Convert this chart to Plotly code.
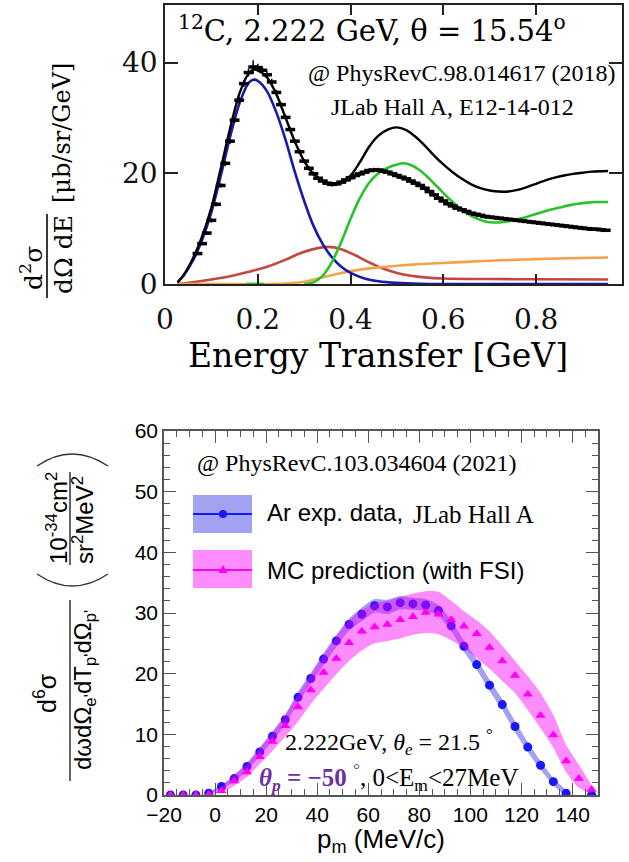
import plotly.graph_objects as go

W, H = 629, 862

# ---------------- Top panel: 12C inclusive cross section ----------------
et_data = [0.07, 0.08, 0.09, 0.10, 0.11, 0.12, 0.13, 0.14, 0.15, 0.16, 0.17, 0.18, 0.19, 0.20,
           0.21, 0.22, 0.23, 0.24, 0.25, 0.26, 0.27, 0.28, 0.29, 0.30, 0.31, 0.32, 0.33, 0.34,
           0.35, 0.36, 0.37, 0.38, 0.39, 0.40, 0.41, 0.42, 0.43, 0.44, 0.45, 0.46, 0.47, 0.48,
           0.49, 0.50, 0.51, 0.52, 0.53, 0.54, 0.55, 0.56, 0.57, 0.58, 0.59, 0.60, 0.61, 0.62,
           0.63, 0.64, 0.65, 0.66, 0.67, 0.68, 0.69, 0.70, 0.71, 0.72, 0.73, 0.74, 0.75, 0.76,
           0.77, 0.78, 0.79, 0.80, 0.81, 0.82, 0.83, 0.84, 0.85, 0.86, 0.87, 0.88, 0.89, 0.90,
           0.91, 0.92, 0.93, 0.94, 0.95]
xs_data = [5.5, 7.3, 9.2, 11.5, 14.4, 17.8, 21.8, 25.8, 29.6, 33.2, 36.2, 38.2, 39.2, 39.1,
           38.6, 37.8, 36.5, 34.6, 32.4, 30.1, 27.9, 25.8, 23.9, 22.2, 20.9, 19.9, 19.1, 18.6,
           18.2, 18.0, 18.1, 18.4, 18.8, 19.2, 19.6, 19.9, 20.2, 20.5, 20.6, 20.6, 20.4, 20.2,
           19.9, 19.6, 19.3, 19.0, 18.6, 18.2, 17.8, 17.3, 16.7, 16.1, 15.5, 15.0, 14.5, 14.1,
           13.7, 13.4, 13.1, 12.8, 12.6, 12.4, 12.2, 12.1, 12.0, 11.9, 11.8, 11.7, 11.6, 11.5,
           11.4, 11.3, 11.2, 11.1, 11.0, 10.9, 10.8, 10.7, 10.6, 10.5, 10.4, 10.3, 10.2, 10.1,
           10.0, 9.9, 9.9, 9.8, 9.7]
xs_err = [0.3, 0.3, 0.3, 0.4, 0.4, 0.4, 0.5, 0.5, 0.5, 0.6, 0.6, 0.7, 1.2, 0.7,
          0.6, 0.6, 0.6, 0.5, 0.5, 0.5, 0.5, 0.4, 0.4, 0.4, 0.4, 0.4, 0.4, 0.4,
          0.4, 0.4, 0.4, 0.4, 0.4, 0.4, 0.4, 0.4, 0.4, 0.4, 0.4, 0.4, 0.4, 0.4,
          0.4, 0.4, 0.4, 0.4, 0.4, 0.4, 0.4, 0.4, 0.4, 0.4, 0.4, 0.4, 0.4, 0.4,
          0.3, 0.3, 0.3, 0.3, 0.3, 0.3, 0.3, 0.3, 0.3, 0.3, 0.3, 0.3, 0.3, 0.3,
          0.3, 0.3, 0.3, 0.3, 0.3, 0.3, 0.3, 0.3, 0.3, 0.3, 0.3, 0.3, 0.3, 0.3,
          0.3, 0.3, 0.3, 0.3, 0.3]

et_model = [0.027, 0.04, 0.06, 0.08, 0.10, 0.12, 0.14, 0.16, 0.18, 0.19, 0.20, 0.22, 0.24, 0.26,
            0.28, 0.30, 0.32, 0.34, 0.36, 0.38, 0.40, 0.42, 0.44, 0.46, 0.48, 0.50, 0.52, 0.54,
            0.56, 0.58, 0.60, 0.62, 0.64, 0.66, 0.68, 0.70, 0.72, 0.74, 0.76, 0.78, 0.80, 0.82,
            0.84, 0.86, 0.88, 0.90, 0.92, 0.955]
xs_model = [0.3, 1.6, 4.6, 8.6, 13.8, 20.8, 28.0, 34.3, 38.0, 38.7, 38.6, 37.3, 34.3, 30.0,
            25.7, 22.2, 19.9, 18.6, 18.1, 18.4, 19.6, 22.0, 24.8, 26.8, 27.9, 28.3, 27.8, 26.6,
            25.0, 23.2, 21.6, 20.2, 19.0, 18.0, 17.3, 16.9, 16.7, 16.7, 17.0, 17.5, 18.1, 18.7,
            19.2, 19.6, 19.9, 20.1, 20.3, 20.4]

et_qe = [0.027, 0.04, 0.06, 0.08, 0.10, 0.12, 0.14, 0.16, 0.18, 0.19, 0.20, 0.22, 0.24, 0.26,
         0.28, 0.30, 0.32, 0.34, 0.36, 0.38, 0.40, 0.43, 0.46, 0.50, 0.55, 0.60, 0.70, 0.80, 0.955]
xs_qe = [0.3, 1.5, 4.2, 8.0, 13.0, 19.5, 26.5, 32.5, 36.3, 36.9, 36.7, 34.8, 31.0, 26.0,
         20.2, 15.0, 10.5, 7.2, 4.8, 3.1, 2.0, 1.0, 0.5, 0.2, 0.05, 0.0, 0.0, 0.0, 0.0]

et_mec = [0.027, 0.06, 0.10, 0.14, 0.18, 0.22, 0.26, 0.29, 0.32, 0.35, 0.38, 0.41, 0.44, 0.47,
          0.50, 0.53, 0.56, 0.60, 0.70, 0.80, 0.955]
xs_mec = [0.0, 0.3, 0.8, 1.4, 2.2, 3.1, 4.4, 5.5, 6.3, 6.7, 6.3, 5.2, 3.9, 2.8,
          2.0, 1.5, 1.2, 1.0, 0.9, 0.85, 0.8]

et_dis = [0.027, 0.20, 0.26, 0.30, 0.34, 0.38, 0.42, 0.46, 0.50, 0.55, 0.60, 0.65, 0.70, 0.75,
          0.80, 0.85, 0.90, 0.955]
xs_dis = [0.0, 0.0, 0.1, 0.4, 1.2, 2.0, 2.6, 3.0, 3.3, 3.6, 3.8, 4.0, 4.2, 4.35,
          4.5, 4.6, 4.7, 4.8]

# green (resonance) curve; the short visible stretch at zero near 0.19 is part of it
et_res = [0.175, 0.213, None, 0.30, 0.32, 0.34, 0.36, 0.38, 0.40, 0.42, 0.44, 0.46, 0.48, 0.50,
          0.515, 0.53, 0.55, 0.57, 0.59, 0.61, 0.63, 0.65, 0.67, 0.69, 0.71, 0.73, 0.75, 0.77,
          0.79, 0.81, 0.83, 0.85, 0.87, 0.89, 0.91, 0.93, 0.955]
xs_res = [0.0, 0.0, None, 0.0, 0.3, 1.5, 4.0, 7.6, 11.8, 15.5, 18.3, 20.0, 21.0, 21.6,
          21.8, 21.5, 20.5, 19.0, 17.3, 15.6, 14.1, 12.8, 11.9, 11.3, 11.1, 11.2, 11.5, 11.9,
          12.4, 12.9, 13.4, 13.8, 14.2, 14.5, 14.7, 14.8, 14.8]

top_xticks = [0, 0.2, 0.4, 0.6, 0.8]
top_xticklabels = ["0", "0.2", "0.4", "0.6", "0.8"]
top_yticks = [0, 20, 40]

# ---------------- Bottom panel: Ar(e,e'p) ----------------
pm = [-17.5, -12.5, -7.5, -2.5, 2.5, 7.5, 12.5, 17.5, 22.5, 27.5, 32.5, 37.5, 42.5, 47.5,
      52.5, 57.5, 62.5, 67.5, 72.5, 77.5, 82.5, 87.5, 92.5, 97.5, 102.5, 107.5, 112.5, 117.5,
      122.5, 127.5, 132.5, 137.5, 142.5, 147.5]
ar_data = [0, 0, 0, 0.3, 1.4, 2.7, 4.7, 7.1, 9.7, 12.4, 16.1, 19.2, 22.4, 25.4,
           28.1, 29.8, 31.2, 31.0, 31.7, 31.5, 31.3, 30.4, 27.9, 24.5, 21.5, 18.1, 14.9, 11.3,
           7.9, 4.9, 2.2, 0.3, None, 0.0]
ar_err = [0, 0, 0, 0.2, 0.3, 0.5, 0.6, 0.7, 0.8, 0.8, 0.9, 0.9, 1.0, 1.0,
          1.0, 1.1, 1.1, 1.2, 1.1, 1.0, 1.0, 0.9, 0.9, 0.9, 0.9, 0.9, 0.9, 0.9,
          0.8, 0.7, 0.6, 0.4, None, 0.2]
mc_pred = [0, 0, 0, 0.1, 0.7, 2.3, 3.8, 6.3, 8.8, 11.4, 14.5, 17.3, 20.2, 22.5,
           25.1, 27.0, 27.7, 28.1, 28.9, 29.4, 30.1, 29.8, 28.9, 27.8, 26.6, 24.3, 22.1, 19.7,
           16.6, 13.1, 9.9, 5.6, 2.7, 0.9]
mc_lo = [0, 0, 0, 0, 0.4, 1.5, 3.0, 5.1, 7.3, 9.6, 12.1, 15.0, 17.5, 19.9,
         22.1, 23.8, 25.0, 25.4, 25.8, 26.4, 26.7, 26.5, 25.5, 24.2, 22.6, 20.8, 18.8, 16.8,
         14.0, 11.0, 7.8, 3.8, 1.2, 0.3]
mc_hi = [0, 0, 0, 0.3, 1.3, 3.3, 5.1, 7.7, 10.3, 13.2, 16.5, 19.8, 23.0, 26.1,
         28.8, 30.5, 31.6, 32.0, 32.6, 33.2, 33.6, 33.5, 32.0, 30.3, 28.8, 27.0, 24.6, 22.1,
         19.6, 16.8, 13.2, 8.3, 5.0, 1.5]

bot_xticks = [-20, 0, 20, 40, 60, 80, 100, 120, 140]
bot_yticks = [0, 10, 20, 30, 40, 50, 60]

# ---------------- helpers (pixel -> paper) ----------------
def PX(x):
    return x / W

def PY(y):
    return 1 - y / H

SERIF_T = "DejaVu Serif"
SERIF_O = "Liberation Serif"
SANS = "Liberation Sans"

fig = go.Figure()

# top panel traces
line_specs = [
    (et_mec, xs_mec, "rgb(195,70,65)"),
    (et_dis, xs_dis, "rgb(245,160,75)"),
    (et_qe, xs_qe, "rgb(25,25,170)"),
    (et_res, xs_res, "rgb(40,195,40)"),
]
for xv, yv, col in line_specs:
    fig.add_trace(go.Scatter(x=xv, y=yv, mode="lines", connectgaps=False,
                             line=dict(color=col, width=2.6, shape="spline", smoothing=0.8),
                             xaxis="x", yaxis="y", showlegend=False, hoverinfo="skip"))
fig.add_trace(go.Scatter(x=et_model, y=xs_model, mode="lines",
                         line=dict(color="black", width=2.4, shape="spline", smoothing=0.8),
                         xaxis="x", yaxis="y", showlegend=False))
fig.add_trace(go.Scatter(x=et_data, y=xs_data, mode="markers",
                         marker=dict(symbol="line-ew-open", size=7, color="black",
                                     line=dict(color="black", width=3.5)),
                         error_y=dict(type="data", array=xs_err, color="black", thickness=1.5, width=0),
                         xaxis="x", yaxis="y", showlegend=False))

# bottom panel traces
band_idx = [i for i in range(len(pm)) if ar_data[i] is not None and -5 < pm[i] < 140]
bx = [pm[i] for i in band_idx]
b_hi = [ar_data[i] + ar_err[i] for i in band_idx]
b_lo = [ar_data[i] - ar_err[i] for i in band_idx]
fig.add_trace(go.Scatter(x=bx + bx[::-1], y=b_hi + b_lo[::-1], mode="lines", fill="toself",
                         fillcolor="rgba(70,70,225,0.5)", line=dict(width=0, shape="spline", smoothing=0.6),
                         xaxis="x2", yaxis="y2", showlegend=False, hoverinfo="skip"))
fig.add_trace(go.Scatter(x=pm, y=ar_data, mode="markers",
                         marker=dict(symbol="circle", size=9, color="rgb(25,25,245)"),
                         xaxis="x2", yaxis="y2", showlegend=False))
m_idx = [i for i in range(len(pm)) if pm[i] > -5]
mx = [pm[i] for i in m_idx]
m_hi = [mc_hi[i] for i in m_idx]
m_lo = [mc_lo[i] for i in m_idx]
fig.add_trace(go.Scatter(x=mx + mx[::-1], y=m_hi + m_lo[::-1], mode="lines", fill="toself",
                         fillcolor="rgba(250,0,250,0.45)", line=dict(width=0, shape="spline", smoothing=0.6),
                         xaxis="x2", yaxis="y2", showlegend=False, hoverinfo="skip"))
fig.add_trace(go.Scatter(x=pm, y=mc_pred, mode="markers",
                         marker=dict(symbol="triangle-up", size=9, color="rgb(255,0,240)"),
                         xaxis="x2", yaxis="y2", showlegend=False))

axis_common = dict(showgrid=False, zeroline=False, showline=True, ticks="inside", mirror="ticks",
                   automargin=False)

fig.update_layout(
    width=W, height=H,
    margin=dict(l=0, r=0, t=0, b=0, pad=0, autoexpand=False),
    paper_bgcolor="white", plot_bgcolor="white",
    showlegend=False,
    xaxis=dict(axis_common, domain=[PX(165), PX(622)], range=[0, 0.985], anchor="y",
               tickvals=top_xticks, ticktext=top_xticklabels, ticklen=10, tickwidth=1.5,
               linecolor="#222", linewidth=1.6, tickcolor="#222", ticklabelstandoff=10,
               tickfont=dict(family=SERIF_T, size=28, color="#111")),
    yaxis=dict(axis_common, domain=[PY(284), PY(5)], range=[0, 50.4], anchor="x",
               tickvals=top_yticks, ticklen=13, tickwidth=1.5,
               linecolor="#222", linewidth=1.6, tickcolor="#222",
               tickfont=dict(family=SERIF_T, size=28, color="#111")),
    xaxis2=dict(axis_common, domain=[PX(164), PX(598)], range=[-20, 150], anchor="y2",
                tickvals=bot_xticks, ticklen=12, tickwidth=1.2,
                linecolor="#555", linewidth=1.5, tickcolor="#555",
                minor=dict(ticks="inside", ticklen=6, dtick=5, tick0=0, tickcolor="#555", tickwidth=1),
                tickfont=dict(family=SANS, size=21, color="black")),
    yaxis2=dict(axis_common, domain=[PY(795), PY(431)], range=[0, 60], anchor="x2",
                tickvals=bot_yticks, ticklen=12, tickwidth=1.2,
                linecolor="#555", linewidth=1.5, tickcolor="#555",
                minor=dict(ticks="inside", ticklen=6, dtick=2, tick0=0, tickcolor="#555", tickwidth=1),
                tickfont=dict(family=SANS, size=21, color="black")),
)

ann = []

def A(text, x, y, size, family, xanchor="center", yanchor="middle", angle=0, color="black"):
    ann.append(dict(text=text, x=PX(x), y=PY(y), xref="paper", yref="paper", showarrow=False,
                    xanchor=xanchor, yanchor=yanchor, textangle=angle,
                    font=dict(family=family, size=size, color=color)))

# top panel texts
A("<sup>12</sup>C, 2.222 GeV, θ = 15.54<sup>o</sup>", 176, 29, 29, SERIF_T, xanchor="left")
A("@ PhysRevC.98.014617 (2018)", 617, 73, 24, SERIF_O, xanchor="right")
A("JLab Hall A, E12-14-012", 452, 107, 24, SERIF_O)
A("Energy Transfer [GeV]", 378, 355, 33, SERIF_T)
A("[μb/sr/GeV]", 62, 133, 24, SERIF_T, angle=-90)
A("d<sup>2</sup>σ", 32, 268, 25, SERIF_T, angle=-90)
A("dΩ dE", 63, 255, 25, SERIF_T, angle=-90)

# bottom panel texts
A("@ PhysRevC.103.034604 (2021)", 195, 463, 24, SERIF_O, xanchor="left")
A("Ar exp. data,", 265, 512, 24, SANS, xanchor="left")
A("JLab Hall A", 411, 514, 25, SERIF_O, xanchor="left")
A("MC prediction (with FSI)", 265, 570, 24, SANS, xanchor="left")
A("2.222GeV, <i>θ<sub>e</sub></i> = 21.5 <sup>°</sup>", 283, 742, 24, SERIF_O, xanchor="left")
A("<span style='color:#7030a0'><b><i>θ<sub>p</sub></i> = −50</b> <sup>°</sup></span>, 0&lt;E<sub>m</sub>&lt;27MeV",
  257, 777, 25, SERIF_O, xanchor="left")
A("p<sub>m</sub> (MeV/c)", 381, 840, 26, SANS)
A("d<sup>6</sup>σ", 45, 693, 25, SANS, angle=-90)
A("dωdΩ<sub>e'</sub>dT<sub>p'</sub>dΩ<sub>p'</sub>", 84, 690, 24, SANS, angle=-90)
A("10<sup>-34</sup>cm<sup>2</sup>", 57, 518, 24, SANS, angle=-90)
A("sr<sup>2</sup>MeV<sup>2</sup>", 83, 520, 24, SANS, angle=-90)

shapes = []
def L(x0, y0, x1, y1, color="#222", width=1.8):
    shapes.append(dict(type="line", xref="paper", yref="paper", x0=PX(x0), y0=PY(y0), x1=PX(x1), y1=PY(y1),
                       line=dict(color=color, width=width)))

# fraction bars
L(47, 214, 47, 298)
L(70, 600, 70, 781, color="#333", width=1.5)
L(70, 472, 70, 565, color="#333", width=1.5)

# parentheses as arcs
def arc(xa, ya, xc, yc, xb, yb):
    path = f"M {PX(xa)},{PY(ya)} Q {PX(xc)},{PY(yc)} {PX(xb)},{PY(yb)}"
    shapes.append(dict(type="path", xref="paper", yref="paper", path=path, line=dict(color="#333", width=1.4)))

arc(37, 466, 72, 442, 108, 466)
arc(37, 574, 72, 598, 108, 574)

# legend boxes
shapes.append(dict(type="rect", xref="paper", yref="paper", x0=PX(193), x1=PX(252), y0=PY(533), y1=PY(495),
                   fillcolor="rgba(70,70,225,0.5)", line=dict(width=0)))
L(193, 514, 252, 514, color="rgb(25,25,245)", width=2)
shapes.append(dict(type="circle", xref="paper", yref="paper", x0=PX(219), x1=PX(227), y0=PY(518), y1=PY(510),
                   fillcolor="rgb(25,25,245)", line=dict(width=0)))
shapes.append(dict(type="rect", xref="paper", yref="paper", x0=PX(193), x1=PX(252), y0=PY(588), y1=PY(550),
                   fillcolor="rgba(250,0,250,0.45)", line=dict(width=0)))
L(193, 570, 252, 570, color="rgb(255,0,240)", width=2)
tri = f"M {PX(218.5)},{PY(573)} L {PX(227.5)},{PY(573)} L {PX(223)},{PY(565)} Z"
shapes.append(dict(type="path", xref="paper", yref="paper", path=tri, fillcolor="rgb(255,0,240)", line=dict(width=0)))

fig.update_layout(annotations=ann, shapes=shapes)

fig.write_html("out.html")
